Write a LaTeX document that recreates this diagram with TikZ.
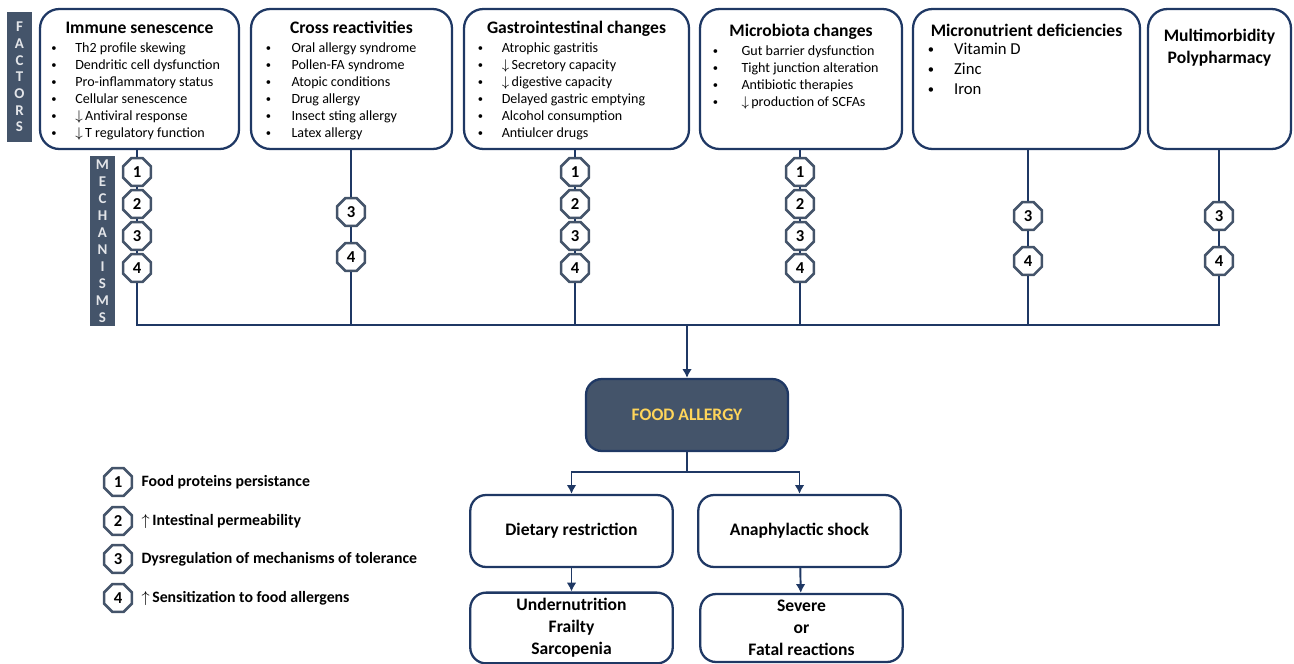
\documentclass[tikz,border=0pt]{standalone}
\usepackage{fontspec}
\setmainfont{Carlito}
\usetikzlibrary{arrows.meta,shapes,positioning}

\definecolor{navy}{RGB}{31,56,100}
\definecolor{slate}{RGB}{68,84,106}
\definecolor{gold}{RGB}{255,213,90}

\newcommand{\blt}[1][0.48cm]{\makebox[#1][l]{\raisebox{0.15ex}{\scalebox{0.75}{\textbullet}}}}
\newcommand{\dnar}{$\downarrow$\,}
\newcommand{\upar}{$\uparrow$\,}

\tikzset{
  factor/.style={draw=navy, line width=1.3pt, rounded corners=11pt, minimum height=2.8cm},
  result/.style={draw=navy, line width=1.3pt, rounded corners=9pt, minimum width=4.05cm,
    font=\bfseries\fontsize{10}{12.5}\selectfont, align=center},
  head/.style={font=\bfseries\fontsize{10}{12.5}\selectfont, anchor=base, inner sep=0pt, align=center},
  items/.style={font=\fontsize{8}{9.75}\selectfont, anchor=north west, inner sep=0pt, align=left},
  mech/.style={regular polygon, regular polygon sides=8, draw=slate, line width=1.5pt, fill=white,
    minimum size=0.6cm, inner sep=0pt, font=\bfseries\fontsize{9.5}{9.5}\selectfont},
  bar/.style={fill=slate, inner sep=0pt, minimum width=0.5cm, text=white!85!slate,
    font=\bfseries\fontsize{8.5}{9.5}\selectfont, align=center},
  conn/.style={draw=navy, line width=1.1pt},
  arr/.style={-{Latex[length=5pt,width=5.5pt]}},
  legend/.style={font=\bfseries\fontsize{9}{11}\selectfont, anchor=west, inner sep=0pt}
}

\begin{document}
\begin{tikzpicture}[x=0.02cm, y=-0.02cm]
  \useasboundingbox (0,0) rectangle (1294,663);

  % side labels
  \node[bar, minimum height=2.6cm] (factors) at (19.5,77) {F\\A\\C\\T\\O\\R\\S};
  \node[bar, minimum height=3.4cm, font=\bfseries\fontsize{8.5}{9.64}\selectfont] (mechs) at (102.5,241)
    {M\\E\\C\\H\\A\\N\\I\\S\\M\\S};

  % factor boxes
  \node[factor, minimum width=3.98cm] (imm) at (139.5,79) {};
  \node[head] (immh) at (139.5,33) {Immune senescence};
  \node[items] (immi) at (51,42) {\blt Th2 profile skewing\\ \blt Dendritic cell dysfunction\\
    \blt Pro-inflammatory status\\ \blt Cellular senescence\\ \blt \dnar Antiviral response\\
    \blt \dnar T regulatory function};

  \node[factor, minimum width=4.02cm] (cro) at (351.5,79) {};
  \node[head] (croh) at (351.5,33) {Cross reactivities};
  \node[items] (croi) at (265.5,42) {\blt[0.45cm] Oral allergy syndrome\\ \blt[0.45cm] Pollen-FA syndrome\\
    \blt[0.45cm] Atopic conditions\\ \blt[0.45cm] Drug allergy\\ \blt[0.45cm] Insect sting allergy\\
    \blt[0.45cm] Latex allergy};

  \node[factor, minimum width=4.5cm] (gas) at (576.5,79) {};
  \node[head] (gash) at (576.5,33) {Gastrointestinal changes};
  \node[items] (gasi) at (477.5,42) {\blt Atrophic gastritis\\ \blt \dnar Secretory capacity\\
    \blt \dnar digestive capacity\\ \blt Delayed gastric emptying\\ \blt Alcohol consumption\\
    \blt Antiulcer drugs};

  \node[factor, minimum width=4.04cm] (mic) at (801,79) {};
  \node[head] (mich) at (801,36) {Microbiota changes};
  \node[items] (mici) at (712.5,45) {\blt[0.51cm] Gut barrier dysfunction\\ \blt[0.51cm] Tight junction alteration\\
    \blt[0.51cm] Antibiotic therapies\\ \blt[0.51cm] \dnar production of SCFAs};

  \node[factor, minimum width=4.54cm] (nut) at (1026.5,79) {};
  \node[head] (nuth) at (1026.5,36) {Micronutrient deficiencies};
  \node[items, font=\fontsize{9.5}{11.3}\selectfont] (nuti) at (927.5,43)
    {\blt[0.45cm] Vitamin D\\ \blt[0.45cm] Zinc\\ \blt[0.45cm] Iron};

  \node[factor, minimum width=2.86cm] (mul) at (1219.5,79) {};
  \node[head] (mulh) at (1219.5,63) {Multimorbidity\\Polypharmacy};

  % mechanisms
  \foreach \n/\y in {1/172,2/204,3/236,4/268} {
    \node[mech] (i\n) at (137,\y) {\n};
    \node[mech] (g\n) at (575,\y) {\n};
    \node[mech] (m\n) at (800,\y) {\n};
  }
  \node[mech] (c3) at (351,212) {3};
  \node[mech] (c4) at (351,257) {4};
  \node[mech] (n3) at (1028,216) {3};
  \node[mech] (n4) at (1028,261) {4};
  \node[mech] (u3) at (1219,216) {3};
  \node[mech] (u4) at (1219,261) {4};

  \coordinate (busL) at (137,325);
  \coordinate (top) at (687,325);

  \draw[conn] (imm.south -| i1) -- (i1) -- (i2) -- (i3) -- (i4);
  \draw[conn] (gas.south -| g1) -- (g1) -- (g2) -- (g3) -- (g4) -- (g4 |- busL);
  \draw[conn] (mic.south -| m1) -- (m1) -- (m2) -- (m3) -- (m4) -- (m4 |- busL);
  \draw[conn] (cro.south -| c3) -- (c3) -- (c4) -- (c4 |- busL);
  \draw[conn] (nut.south -| n3) -- (n3) -- (n4) -- (n4 |- busL);
  \draw[conn] (mul.south -| u3) -- (u3) -- (u4);
  \draw[conn] (i4) |- (u4 |- busL) -- (u4);

  % outcome
  \node[draw=navy, fill=slate, line width=1.3pt, rounded corners=9pt, minimum width=4.04cm,
    minimum height=1.44cm, text=gold, font=\bfseries\fontsize{10}{12}\selectfont] (fa) at (687,415) {FOOD ALLERGY};
  \draw[conn, arr] (top) -- (fa);

  \node[result, minimum height=1.44cm] (diet) at (571.5,531) {Dietary restriction};
  \node[result, minimum height=1.44cm] (anap) at (799.5,531) {Anaphylactic shock};
  \node[result, minimum height=1.36cm] (und) at (571.5,628) {Undernutrition\\Frailty\\Sarcopenia};
  \node[result, minimum height=1.36cm] (sev) at (801.5,628) {Severe\\or\\Fatal reactions};

  \coordinate (split) at (687,472);
  \draw[conn] (fa) -- (split);
  \draw[conn, arr] (split) -| (diet);
  \draw[conn, arr] (split) -| (anap);
  \draw[conn, arr] (diet) -- (und);
  \draw[conn, arr] (anap) -- (sev);

  % legend
  \node[mech] (l1) at (118,482) {1};
  \node[mech] (l2) at (118,521) {2};
  \node[mech] (l3) at (118,559) {3};
  \node[mech] (l4) at (118,598) {4};
  \node[legend, right=0.16cm of l1] (lt1) {Food proteins persistance};
  \node[legend, right=0.16cm of l2] (lt2) {\upar Intestinal permeability};
  \node[legend, right=0.16cm of l3] (lt3) {Dysregulation of mechanisms of tolerance};
  \node[legend, right=0.16cm of l4] (lt4) {\upar Sensitization to food allergens};
\end{tikzpicture}
\end{document}
